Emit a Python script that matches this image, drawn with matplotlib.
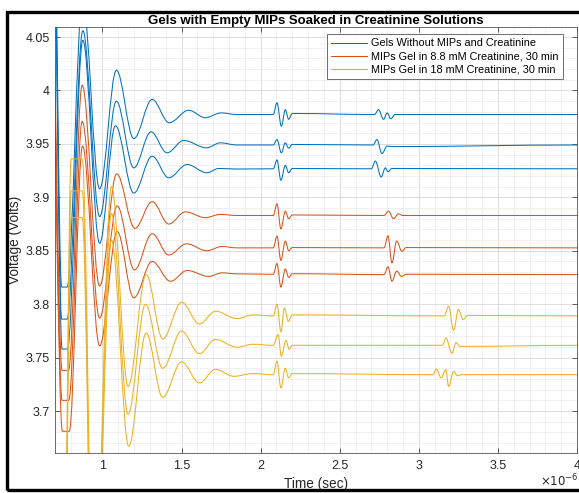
import matplotlib
matplotlib.use("Agg")
import matplotlib.pyplot as plt
from matplotlib.path import Path
from matplotlib.patches import PathPatch, Rectangle
from matplotlib.lines import Line2D
from matplotlib.ticker import MultipleLocator, FuncFormatter

plt.rcParams['font.family'] = ['Liberation Sans', 'DejaVu Sans']

# turning points of each trace (time in microseconds, volts)
blue1_t = [0.69, 0.742, 0.776, 0.874, 0.982, 1.088, 1.198, 1.314, 1.422, 1.545, 1.65, 1.75, 1.85,
           2.08, 2.103, 2.131, 2.156, 2.177, 2.2, 2.72, 2.745, 2.777, 2.8, 2.822, 2.85, 4.0]
blue1_v = [4.20, 3.816, 3.816, 4.085, 3.908, 4.019, 3.955, 3.9916, 3.9698, 3.9815, 3.9745, 3.979, 3.9775,
           3.9775, 3.9885, 3.9666, 3.982, 3.973, 3.9785, 3.9775, 3.982, 3.973, 3.979, 3.9735, 3.9775, 3.9775]

blue2_t = [0.69, 0.742, 0.776, 0.876, 0.982, 1.088, 1.198, 1.307, 1.408, 1.514, 1.657, 1.745, 1.85,
           2.08, 2.103, 2.131, 2.156, 2.177, 2.2, 2.71, 2.735, 2.767, 2.8, 2.83, 4.0]
blue2_v = [4.17, 3.786, 3.786, 4.056, 3.882, 3.990, 3.9276, 3.9613, 3.9417, 3.9532, 3.9463, 3.951, 3.949,
           3.949, 3.954, 3.9417, 3.951, 3.946, 3.9495, 3.949, 3.954, 3.941, 3.948, 3.9475, 3.949]

blue3_t = [0.69, 0.745, 0.778, 0.876, 0.982, 1.082, 1.198, 1.314, 1.419, 1.535, 1.66, 1.735, 1.85,
           2.08, 2.103, 2.128, 2.156, 2.177, 2.2, 2.70, 2.725, 2.762, 2.788, 2.805, 2.83, 4.0]
blue3_v = [4.15, 3.758, 3.758, 4.047, 3.857, 3.967, 3.904, 3.9385, 3.9183, 3.9307, 3.923, 3.927, 3.9265,
           3.9267, 3.935, 3.916, 3.930, 3.923, 3.927, 3.9267, 3.934, 3.919, 3.9276, 3.924, 3.927, 3.9267]

orange1_t = [0.675, 0.745, 0.785, 0.872, 0.982, 1.09, 1.205, 1.314, 1.419, 1.524, 1.65, 1.745, 1.85,
             2.08, 2.103, 2.128, 2.156, 2.177, 2.2, 2.78, 2.808, 2.84, 2.87, 2.9, 4.0]
orange1_v = [4.12, 3.738, 3.738, 4.005, 3.817, 3.922, 3.871, 3.896, 3.875, 3.8864, 3.881, 3.884, 3.883,
             3.883, 3.894, 3.8705, 3.887, 3.880, 3.8835, 3.883, 3.887, 3.880, 3.8845, 3.883, 3.883]

orange2_t = [0.675, 0.745, 0.787, 0.872, 0.982, 1.093, 1.202, 1.314, 1.419, 1.531, 1.66, 1.756, 1.85,
             2.08, 2.103, 2.128, 2.156, 2.177, 2.2, 2.78, 2.805, 2.83, 2.86, 2.893, 2.92, 4.0]
orange2_v = [4.09, 3.710, 3.710, 3.971, 3.787, 3.892, 3.832, 3.866, 3.846, 3.8565, 3.850, 3.854, 3.8527,
             3.8527, 3.8636, 3.841, 3.859, 3.850, 3.853, 3.8527, 3.864, 3.8386, 3.859, 3.8495, 3.853, 3.8527]

orange3_t = [0.675, 0.747, 0.79, 0.874, 0.982, 1.093, 1.198, 1.314, 1.43, 1.535, 1.671, 1.756, 1.85,
             2.08, 2.103, 2.128, 2.156, 2.177, 2.2, 2.78, 2.805, 2.83, 2.86, 2.89, 2.92, 4.0]
orange3_v = [4.06, 3.681, 3.681, 3.948, 3.761, 3.868, 3.806, 3.840, 3.8214, 3.8315, 3.826, 3.8293, 3.8284,
             3.828, 3.838, 3.816, 3.833, 3.825, 3.8285, 3.8277, 3.835, 3.8215, 3.831, 3.826, 3.828, 3.8277]

yellow1_t = [0.70, 0.755, 0.802, 0.872, 0.945, 1.057, 1.162, 1.276, 1.381, 1.5, 1.613, 1.714, 1.85, 1.95,
             2.08, 2.103, 2.128, 2.15, 2.175, 2.2, 3.16, 3.188, 3.22, 3.25, 3.28, 3.31, 4.0]
yellow1_v = [3.50, 3.50, 3.936, 3.936, 3.50, 3.910, 3.723, 3.8277, 3.7675, 3.8018, 3.7815, 3.7934, 3.7865, 3.790,
             3.789, 3.800, 3.774, 3.7965, 3.784, 3.790, 3.789, 3.798, 3.7756, 3.795, 3.7856, 3.7895, 3.789]

yellow2_t = [0.70, 0.755, 0.802, 0.872, 0.945, 1.057, 1.162, 1.272, 1.381, 1.5, 1.613, 1.714, 1.85, 1.95,
             2.08, 2.11, 2.131, 2.16, 2.18, 2.2, 3.15, 3.171, 3.209, 3.235, 3.26, 4.0]
yellow2_v = [3.48, 3.48, 3.906, 3.906, 3.48, 3.885, 3.697, 3.800, 3.740, 3.7747, 3.7537, 3.767, 3.7597, 3.7625,
             3.7615, 3.7715, 3.7513, 3.766, 3.758, 3.7615, 3.7615, 3.7684, 3.754, 3.764, 3.7605, 3.7615]

yellow3_t = [0.70, 0.755, 0.802, 0.872, 0.945, 1.057, 1.166, 1.276, 1.381, 1.5, 1.613, 1.714, 1.83, 1.95,
             2.08, 2.103, 2.128, 2.156, 2.177, 2.2, 3.09, 3.11, 3.141, 3.171, 3.188, 3.22, 3.245, 3.27, 4.0]
yellow3_v = [3.46, 3.46, 3.881, 3.881, 3.46, 3.860, 3.667, 3.773, 3.7128, 3.746, 3.7263, 3.739, 3.7325, 3.735,
             3.734, 3.7466, 3.7216, 3.740, 3.731, 3.735, 3.734, 3.7393, 3.731, 3.7388, 3.723, 3.737, 3.733, 3.734, 3.734]

labels = ['Gels Without MIPs and Creatinine',
          'MIPs Gel in 8.8 mM Creatinine, 30 min',
          'MIPs Gel in 18 mM Creatinine, 30 min']
colors = ['#0072BD', '#D95319', '#EDB120']

groups = [
    [(blue1_t, blue1_v), (blue2_t, blue2_v), (blue3_t, blue3_v)],
    [(orange1_t, orange1_v), (orange2_t, orange2_v), (orange3_t, orange3_v)],
    [(yellow1_t, yellow1_v), (yellow2_t, yellow2_v), (yellow3_t, yellow3_v)],
]


def wave_path(ts, vs, k=0.36):
    # smooth curve through turning points (flat tangent at every knot)
    verts = [(ts[0], vs[0])]
    codes = [Path.MOVETO]
    for i in range(1, len(ts)):
        dt = ts[i] - ts[i - 1]
        verts += [(ts[i - 1] + k * dt, vs[i - 1]), (ts[i] - k * dt, vs[i]), (ts[i], vs[i])]
        codes += [Path.CURVE4] * 3
    return Path(verts, codes)


fig = plt.figure(figsize=(5.79, 4.93), dpi=100)
ax = fig.add_axes([0.095, 0.0811, 0.9016, 0.8641])

for col, traces in zip(colors, groups):
    for ts, vs in traces:
        ax.add_patch(PathPatch(wave_path(ts, vs), fill=False, edgecolor=col, lw=0.75))

ax.set_xlim(0.7, 4.0)
ax.set_ylim(3.6607, 4.0594)

ax.xaxis.set_major_locator(MultipleLocator(0.5))
ax.xaxis.set_minor_locator(MultipleLocator(0.1))
ax.yaxis.set_major_locator(MultipleLocator(0.05))
ax.yaxis.set_minor_locator(MultipleLocator(0.01))
fmt = FuncFormatter(lambda x, p: f'{x:g}')
ax.xaxis.set_major_formatter(fmt)
ax.yaxis.set_major_formatter(fmt)

ax.grid(which='major', color='#d8d8d8', lw=0.6)
ax.grid(which='minor', color='#ececec', lw=0.5)
ax.set_axisbelow(True)
ax.tick_params(which='major', direction='in', top=True, right=True, length=3.5,
               width=0.6, color='#444444', labelsize=9, labelcolor='#262626')
ax.tick_params(axis='x', pad=5)
ax.tick_params(axis='y', pad=4)
ax.tick_params(which='minor', length=0)
for s in ax.spines.values():
    s.set_color('#555555')
    s.set_linewidth(0.6)

ax.set_xlabel('Time (sec)', fontsize=9.8, color='#262626')
ax.set_ylabel('Voltage (Volts)', fontsize=9.8, color='#262626')
ax.xaxis.set_label_coords(0.5, -0.0728)
ax.xaxis.label.set_va('center')
ax.yaxis.set_label_coords(-0.0766, 0.5)
ax.yaxis.label.set_va('center')
ax.text(1.003, -0.066, r'$\times10^{-6}$', transform=ax.transAxes, ha='right', va='center',
        fontsize=8.5, color='#262626')
ax.text(0.5, 1.008, 'Gels with Empty MIPs Soaked in Creatinine Solutions', transform=ax.transAxes,
        ha='center', va='baseline', fontsize=9.5, fontweight='bold')

handles = [Line2D([], [], color=c, lw=0.75) for c in colors]
leg = ax.legend(handles, labels, loc='upper right', bbox_to_anchor=(0.973, 0.9836), borderaxespad=0,
                fontsize=7.8, handlelength=3.3, handletextpad=0.4, labelspacing=0.3,
                fancybox=False, framealpha=1, edgecolor='#555555', borderpad=0.4)
leg.get_frame().set_linewidth(0.6)

fig.add_artist(Rectangle((7.5 / 579, 1 - 490 / 493), 1.0, (490 - 12) / 493, transform=fig.transFigure,
                         fill=False, ec='black', lw=2.4, clip_on=False))

fig.savefig('out.png', dpi=100)
